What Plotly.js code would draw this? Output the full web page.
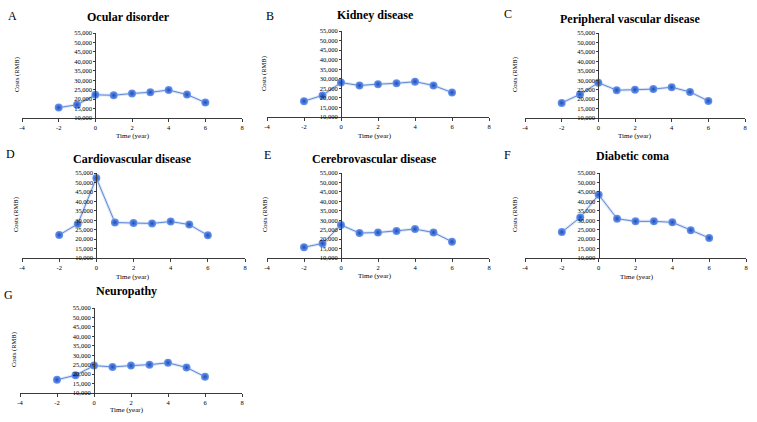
<!DOCTYPE html>
<html>
<head>
<meta charset="utf-8">
<script src="https://cdn.plot.ly/plotly-3.0.1.min.js"></script>
<style>html,body{margin:0;padding:0;background:#fff;}#chart{width:757px;height:422px;}</style>
</head>
<body>
<div id="chart"></div>
<script>
// ---- Data ----
const years = [-2, -1, 0, 1, 2, 3, 4, 5, 6];
const ocularDisorder        = [15500, 17000, 22300, 22000, 23000, 23600, 24800, 22400, 18200];
const kidneyDisease         = [18300, 21300, 28000, 26500, 27200, 27600, 28500, 26500, 22800];
const peripheralVascular    = [18000, 22500, 28700, 24700, 25000, 25300, 26300, 23800, 19000];
const cardiovascular        = [22200, 28000, 52300, 28800, 28500, 28300, 29300, 27700, 22000];
const cerebrovascular       = [15700, 17700, 27500, 23200, 23500, 24300, 25300, 23500, 18600];
const diabeticComa          = [23700, 31500, 43500, 30800, 29400, 29400, 28900, 24700, 20600];
const neuropathy            = [17000, 19400, 24500, 23800, 24500, 25000, 26000, 23500, 18600];

const xTickVals = [-4, -2, 0, 2, 4, 6, 8];
const xTickText = ["-4", "-2", "0", "2", "4", "6", "8"];

const panelLetters = ["A", "B", "C", "D", "E", "F", "G"];
const panelTitles = ["Ocular disorder", "Kidney disease", "Peripheral vascular disease",
  "Cardiovascular disease", "Cerebrovascular disease", "Diabetic coma", "Neuropathy"];
const seriesList = [ocularDisorder, kidneyDisease, peripheralVascular, cardiovascular,
  cerebrovascular, diabeticComa, neuropathy];
const xTitle = "Time (year)";
const yTitle = "Costs (RMB)";

// ---- Layout geometry (pixels) ----
const W = 757, H = 422;
const boxes = [
  {x0: 22,  x1: 242, yTop: 33,  yBot: 118, title: [128, 17], letter: [12, 16],  ytl: [17, 75],   xtl: [133, 136]},
  {x0: 267, x1: 489, yTop: 31,  yBot: 117, title: [375, 15], letter: [270, 16], ytl: [264, 74],  xtl: [375, 136]},
  {x0: 525, x1: 745, yTop: 33,  yBot: 118, title: [630, 19], letter: [508, 14], ytl: [515, 75],  xtl: [635, 136]},
  {x0: 22,  x1: 245, yTop: 173, yBot: 258, title: [132, 159], letter: [10, 154], ytl: [16, 215], xtl: [133, 277]},
  {x0: 267, x1: 489, yTop: 173, yBot: 258, title: [374, 159], letter: [267, 155], ytl: [265, 215], xtl: [375, 276]},
  {x0: 525, x1: 746, yTop: 173, yBot: 258, title: [632, 156], letter: [507, 155], ytl: [515, 215], xtl: [637, 277]},
  {x0: 20,  x1: 242, yTop: 308, yBot: 393, title: [126, 291], letter: [8, 295],  ytl: [14, 350], xtl: [127, 410]}
];
const fx = px => px / W;
const fy = py => 1 - py / H;

const serif = "Liberation Serif, Times New Roman, serif";
const traces = [];
const layout = {
  width: W, height: H,
  margin: {l: 0, r: 0, t: 0, b: 0},
  paper_bgcolor: "#fff", plot_bgcolor: "rgba(0,0,0,0)",
  showlegend: false,
  font: {family: serif, color: "#000"},
  annotations: []
};

seriesList.forEach((vals, i) => {
  const n = i + 1;
  const xa = "x" + (n === 1 ? "" : n), ya = "y" + (n === 1 ? "" : n);
  const xk = "xaxis" + (n === 1 ? "" : n), yk = "yaxis" + (n === 1 ? "" : n);
  const b = boxes[i];
  // soft band under the line
  traces.push({x: years, y: vals, xaxis: xa, yaxis: ya, type: "scatter", mode: "lines",
    line: {color: "rgba(140,170,225,0.3)", width: 3}, hoverinfo: "skip", cliponaxis: false});
  traces.push({x: years, y: vals, xaxis: xa, yaxis: ya, type: "scatter", mode: "lines+markers",
    line: {color: "#5f8ad8", width: 1},
    marker: {size: 8, color: "#6a98f0", gradient: {type: "radial", color: "#1f4cb8"},
      line: {width: 0}},
    cliponaxis: false});
  const xr = [-4, 8];
  layout[xk] = {
    domain: [fx(b.x0), fx(b.x1)], anchor: ya, range: xr,
    tickmode: "array", tickvals: xTickVals, ticktext: xTickText,
    showgrid: false, zeroline: false, showline: true, linecolor: "#3a3a3a", linewidth: 1,
    ticks: "outside", ticklen: 3, tickcolor: "#3a3a3a", tickwidth: 1,
    tickfont: {family: serif, size: 6.5, color: "#000"}, fixedrange: true
  };
  const yPos = fx(b.x0 + (0 - xr[0]) / (xr[1] - xr[0]) * (b.x1 - b.x0));
  layout[yk] = {
    domain: [fy(b.yBot), fy(b.yTop)], anchor: "free", position: yPos, range: [10000, 55000],
    dtick: 5000, tick0: 10000, tickformat: ",d",
    showgrid: false, zeroline: false, showline: true, linecolor: "#3a3a3a", linewidth: 1,
    ticks: "outside", ticklen: 2, tickcolor: "#3a3a3a",
    tickfont: {family: serif, size: 6.5, color: "#000"}, fixedrange: true
  };
  layout.annotations.push({
    xref: "paper", yref: "paper", x: fx(b.title[0]), y: fy(b.title[1]),
    xanchor: "center", yanchor: "middle", showarrow: false,
    text: "<b>" + panelTitles[i] + "</b>", font: {family: serif, size: 12, color: "#000"}
  });
  layout.annotations.push({
    xref: "paper", yref: "paper", x: fx(b.letter[0]), y: fy(b.letter[1]),
    xanchor: "center", yanchor: "middle", showarrow: false,
    text: panelLetters[i], font: {family: serif, size: 12, color: "#000"}
  });
  layout.annotations.push({
    xref: "paper", yref: "paper", x: fx(b.ytl[0]), y: fy(b.ytl[1]),
    xanchor: "center", yanchor: "middle", showarrow: false, textangle: -90,
    text: yTitle, font: {family: serif, size: 6.5, color: "#000"}
  });
  layout.annotations.push({
    xref: "paper", yref: "paper", x: fx(b.xtl[0]), y: fy(b.xtl[1]),
    xanchor: "center", yanchor: "middle", showarrow: false,
    text: xTitle, font: {family: serif, size: 7, color: "#000"}
  });
});

Plotly.newPlot("chart", traces, layout, {staticPlot: true, displayModeBar: false});
</script>
</body>
</html>
